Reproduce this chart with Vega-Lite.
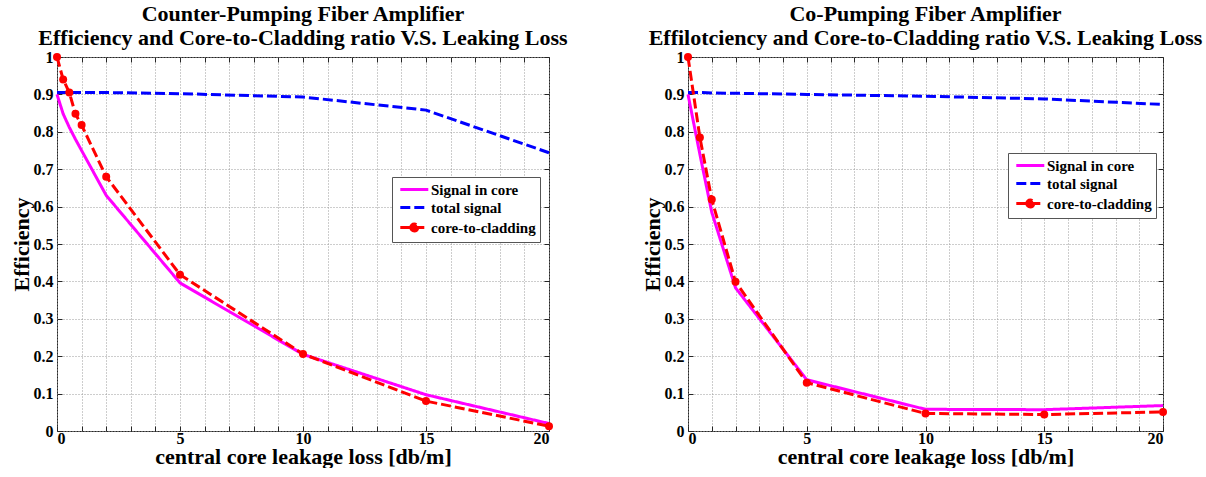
{
  "$schema": "https://vega.github.io/schema/vega-lite/v6.json",
  "autosize": {"type": "pad"},
  "padding": {"left": 9, "top": 2, "right": 0, "bottom": 0},
  "bounds": "flush",
  "spacing": 139,
  "background": "white",
  "resolve": {"scale": {"color": "independent", "strokeDash": "independent"}, "legend": {"color": "independent", "strokeDash": "independent"}},
  "config": {
    "font": "Liberation Serif",
    "view": {"stroke": "#262626", "strokeWidth": 1},
    "axis": {
      "labelFont": "Liberation Serif", "labelFontWeight": "bold", "labelFontSize": 16, "labelColor": "black",
      "titleFont": "Liberation Serif", "titleFontWeight": "bold", "titleFontSize": 22, "titleColor": "black",
      "domain": false, "gridColor": "#9a9a9a", "gridDash": [1, 2], "gridWidth": 1,
      "tickColor": "#262626", "tickSize": -5
    },
    "title": {"font": "Liberation Serif", "fontWeight": "bold", "fontSize": 22, "color": "black", "lineHeight": 24, "offset": -1}
  },
  "datasets": {
    "counter": [
      {"x": 0, "eff": 0.9, "series": "Signal in core"},
      {"x": 0.25, "eff": 0.848, "series": "Signal in core"},
      {"x": 0.5, "eff": 0.812, "series": "Signal in core"},
      {"x": 0.75, "eff": 0.78, "series": "Signal in core"},
      {"x": 1, "eff": 0.75, "series": "Signal in core"},
      {"x": 2, "eff": 0.63, "series": "Signal in core"},
      {"x": 5, "eff": 0.396, "series": "Signal in core"},
      {"x": 10, "eff": 0.205, "series": "Signal in core"},
      {"x": 15, "eff": 0.097, "series": "Signal in core"},
      {"x": 20, "eff": 0.02, "series": "Signal in core"},
      {"x": 0, "eff": 0.905, "series": "total signal"},
      {"x": 0.25, "eff": 0.905, "series": "total signal"},
      {"x": 0.5, "eff": 0.905, "series": "total signal"},
      {"x": 0.75, "eff": 0.905, "series": "total signal"},
      {"x": 1, "eff": 0.905, "series": "total signal"},
      {"x": 2, "eff": 0.905, "series": "total signal"},
      {"x": 5, "eff": 0.902, "series": "total signal"},
      {"x": 10, "eff": 0.893, "series": "total signal"},
      {"x": 15, "eff": 0.858, "series": "total signal"},
      {"x": 20, "eff": 0.744, "series": "total signal"},
      {"x": 0, "eff": 1.0, "series": "core-to-cladding"},
      {"x": 0.25, "eff": 0.94, "series": "core-to-cladding"},
      {"x": 0.5, "eff": 0.905, "series": "core-to-cladding"},
      {"x": 0.75, "eff": 0.848, "series": "core-to-cladding"},
      {"x": 1, "eff": 0.818, "series": "core-to-cladding"},
      {"x": 2, "eff": 0.68, "series": "core-to-cladding"},
      {"x": 5, "eff": 0.418, "series": "core-to-cladding"},
      {"x": 10, "eff": 0.206, "series": "core-to-cladding"},
      {"x": 15, "eff": 0.08, "series": "core-to-cladding"},
      {"x": 20, "eff": 0.013, "series": "core-to-cladding"}
    ],
    "co": [
      {"x": 0, "eff": 0.9, "series": "Signal in core"},
      {"x": 0.5, "eff": 0.74, "series": "Signal in core"},
      {"x": 1, "eff": 0.585, "series": "Signal in core"},
      {"x": 2, "eff": 0.383, "series": "Signal in core"},
      {"x": 5, "eff": 0.137, "series": "Signal in core"},
      {"x": 10, "eff": 0.058, "series": "Signal in core"},
      {"x": 15, "eff": 0.057, "series": "Signal in core"},
      {"x": 20, "eff": 0.068, "series": "Signal in core"},
      {"x": 0, "eff": 0.905, "series": "total signal"},
      {"x": 0.5, "eff": 0.905, "series": "total signal"},
      {"x": 1, "eff": 0.904, "series": "total signal"},
      {"x": 2, "eff": 0.903, "series": "total signal"},
      {"x": 5, "eff": 0.9, "series": "total signal"},
      {"x": 10, "eff": 0.895, "series": "total signal"},
      {"x": 15, "eff": 0.888, "series": "total signal"},
      {"x": 20, "eff": 0.873, "series": "total signal"},
      {"x": 0, "eff": 1.0, "series": "core-to-cladding"},
      {"x": 0.5, "eff": 0.785, "series": "core-to-cladding"},
      {"x": 1, "eff": 0.619, "series": "core-to-cladding"},
      {"x": 2, "eff": 0.399, "series": "core-to-cladding"},
      {"x": 5, "eff": 0.129, "series": "core-to-cladding"},
      {"x": 10, "eff": 0.047, "series": "core-to-cladding"},
      {"x": 15, "eff": 0.044, "series": "core-to-cladding"},
      {"x": 20, "eff": 0.051, "series": "core-to-cladding"}
    ]
  },
  "hconcat": [
    {
      "width": 492, "height": 374,
      "title": {"text": ["Counter-Pumping Fiber Amplifier", "Efficiency and Core-to-Cladding ratio V.S. Leaking Loss"]},
      "data": {"name": "counter"},
      "layer": [
        {
          "mark": {"type": "line", "strokeWidth": 3},
          "encoding": {
            "x": {"field": "x", "type": "quantitative", "scale": {"domain": [0, 20], "nice": false},
                  "axis": {"title": "central core leakage loss [db/m]", "values": [0,1,2,3,4,5,6,7,8,9,10,11,12,13,14,15,16,17,18,19,20],
                           "labelExpr": "datum.value % 5 === 0 ? datum.label : ''", "labelPadding": 4, "titlePadding": 0}},
            "y": {"field": "eff", "type": "quantitative", "scale": {"domain": [0, 1], "nice": false},
                  "axis": {"title": "Efficiency", "values": [0,0.1,0.2,0.3,0.4,0.5,0.6,0.7,0.8,0.9,1], "format": "~g", "labelPadding": 9, "titlePadding": 0}},
            "color": {"field": "series", "type": "nominal",
                      "scale": {"domain": ["Signal in core", "total signal", "core-to-cladding"], "range": ["#ff00ff", "#0000ff", "#ff0000"]},
                      "legend": {"orient": "none", "legendX": 335, "legendY": 120, "title": null,
                                 "fillColor": "white", "strokeColor": "#555", "padding": 4, "rowPadding": 1,
                                 "labelFont": "Liberation Serif", "labelFontWeight": "bold", "labelFontSize": 15, "labelColor": "black",
                                 "symbolSize": 196, "symbolStrokeWidth": 3, "labelOffset": 18,
                                 "encode": {"symbols": {"update": {
                                   "shape": {"signal": "datum.value === 'core-to-cladding' ? 'M-0.6,0L3.4,0M0.9,0A0.5,0.5,0,1,0,1.9,0A0.5,0.5,0,1,0,0.9,0' : 'M-0.6,0L3.4,0'"},
                                   "fill": {"signal": "datum.value === 'core-to-cladding' ? '#ff0000' : 'transparent'"}}}}}},
            "strokeDash": {"field": "series", "type": "nominal",
                           "scale": {"domain": ["Signal in core", "total signal", "core-to-cladding"], "range": [[1, 0], [10, 4], [10, 4]]}}
          }
        },
        {
          "transform": [{"filter": "datum.series === 'core-to-cladding'"}],
          "mark": {"type": "point", "filled": true, "shape": "circle", "size": 64, "color": "#ff0000", "opacity": 1},
          "encoding": {
            "x": {"field": "x", "type": "quantitative", "axis": {"orient": "top", "values": [0,1,2,3,4,5,6,7,8,9,10,11,12,13,14,15,16,17,18,19,20], "labels": false, "grid": false, "title": null}},
            "y": {"field": "eff", "type": "quantitative", "axis": {"orient": "right", "values": [0,0.1,0.2,0.3,0.4,0.5,0.6,0.7,0.8,0.9,1], "labels": false, "grid": false, "title": null}}
          }
        }
      ],
      "resolve": {"axis": {"x": "independent", "y": "independent"}}
    },
    {
      "width": 475, "height": 374,
      "title": {"text": ["Co-Pumping Fiber Amplifier", "Effilotciency and Core-to-Cladding ratio V.S. Leaking Loss"]},
      "data": {"name": "co"},
      "layer": [
        {
          "mark": {"type": "line", "strokeWidth": 3},
          "encoding": {
            "x": {"field": "x", "type": "quantitative", "scale": {"domain": [0, 20], "nice": false},
                  "axis": {"title": "central core leakage loss [db/m]", "values": [0,1,2,3,4,5,6,7,8,9,10,11,12,13,14,15,16,17,18,19,20],
                           "labelExpr": "datum.value % 5 === 0 ? datum.label : ''", "labelPadding": 4, "titlePadding": 0}},
            "y": {"field": "eff", "type": "quantitative", "scale": {"domain": [0, 1], "nice": false},
                  "axis": {"title": "Efficiency", "values": [0,0.1,0.2,0.3,0.4,0.5,0.6,0.7,0.8,0.9,1], "format": "~g", "labelPadding": 9, "titlePadding": 0}},
            "color": {"field": "series", "type": "nominal",
                      "scale": {"domain": ["Signal in core", "total signal", "core-to-cladding"], "range": ["#ff00ff", "#0000ff", "#ff0000"]},
                      "legend": {"orient": "none", "legendX": 320, "legendY": 96, "title": null,
                                 "fillColor": "white", "strokeColor": "#555", "padding": 4, "rowPadding": 1,
                                 "labelFont": "Liberation Serif", "labelFontWeight": "bold", "labelFontSize": 15, "labelColor": "black",
                                 "symbolSize": 196, "symbolStrokeWidth": 3, "labelOffset": 18,
                                 "encode": {"symbols": {"update": {
                                   "shape": {"signal": "datum.value === 'core-to-cladding' ? 'M-0.6,0L3.4,0M0.9,0A0.5,0.5,0,1,0,1.9,0A0.5,0.5,0,1,0,0.9,0' : 'M-0.6,0L3.4,0'"},
                                   "fill": {"signal": "datum.value === 'core-to-cladding' ? '#ff0000' : 'transparent'"}}}}}},
            "strokeDash": {"field": "series", "type": "nominal",
                           "scale": {"domain": ["Signal in core", "total signal", "core-to-cladding"], "range": [[1, 0], [10, 4], [10, 4]]}}
          }
        },
        {
          "transform": [{"filter": "datum.series === 'core-to-cladding'"}],
          "mark": {"type": "point", "filled": true, "shape": "circle", "size": 64, "color": "#ff0000", "opacity": 1},
          "encoding": {
            "x": {"field": "x", "type": "quantitative", "axis": {"orient": "top", "values": [0,1,2,3,4,5,6,7,8,9,10,11,12,13,14,15,16,17,18,19,20], "labels": false, "grid": false, "title": null}},
            "y": {"field": "eff", "type": "quantitative", "axis": {"orient": "right", "values": [0,0.1,0.2,0.3,0.4,0.5,0.6,0.7,0.8,0.9,1], "labels": false, "grid": false, "title": null}}
          }
        }
      ],
      "resolve": {"axis": {"x": "independent", "y": "independent"}}
    }
  ]
}
